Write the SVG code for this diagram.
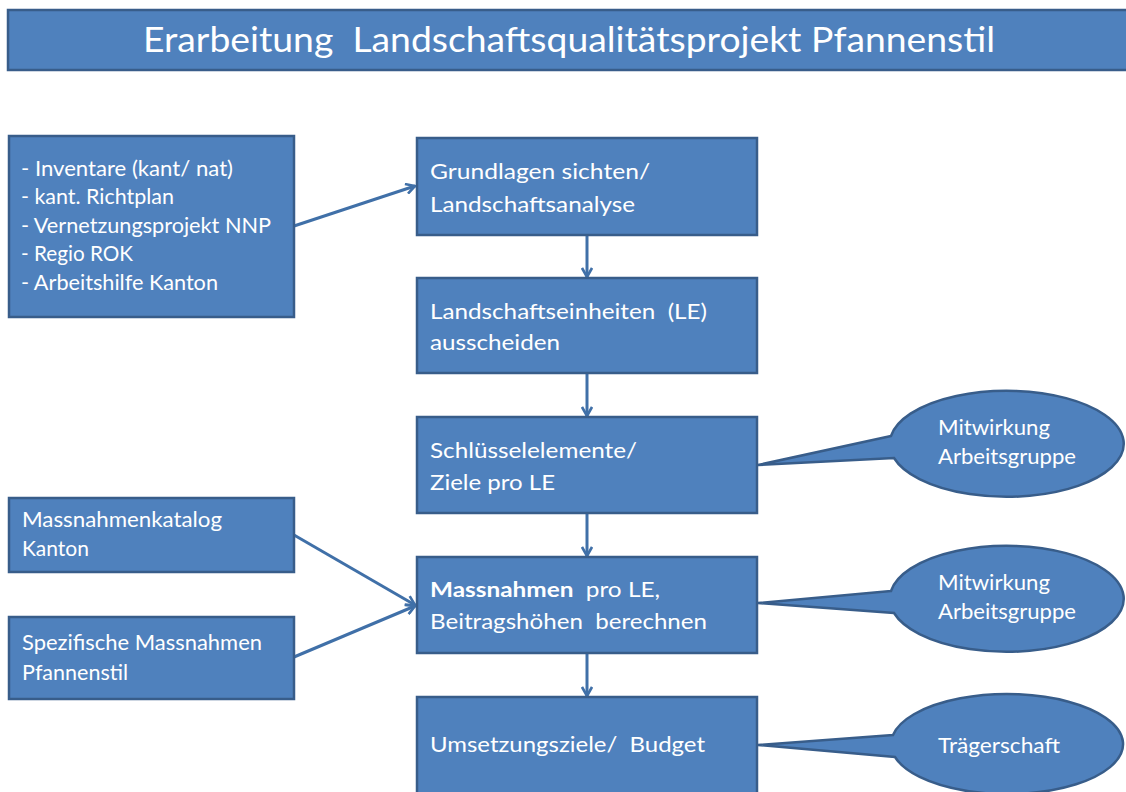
<svg xmlns="http://www.w3.org/2000/svg" width="1126" height="792" viewBox="0 0 1126 792">
<style>
.box{fill:#4F81BD;stroke:#385D8A;stroke-width:2.5}
.t{font-family:Lato,"Open Sans","Liberation Sans",sans-serif;font-size:21.5px;fill:#FFFFFF;white-space:pre}
.c{stroke:#4070A8;stroke-width:3;fill:none}
</style>
<defs>
<marker id="ah" viewBox="0 0 12 12" refX="10" refY="6" markerWidth="12" markerHeight="12" markerUnits="userSpaceOnUse" orient="auto">
<path d="M1,1 L10,6 L1,11" fill="none" stroke="#4070A8" stroke-width="2.6"/>
</marker>
</defs>
<rect width="1126" height="792" fill="#FFFFFF"/>
<g id="title">
<rect class="box" x="8" y="10" width="1130" height="60"/>
<text class="t" x="569" y="52" text-anchor="middle" style="font-size:34px" textLength="852" lengthAdjust="spacingAndGlyphs">Erarbeitung  Landschaftsqualitätsprojekt Pfannenstil</text>
</g>
<g id="connectors">
<line class="c" x1="294" y1="226" x2="415" y2="186" marker-end="url(#ah)"/>
<line class="c" x1="294" y1="535" x2="415" y2="605" marker-end="url(#ah)"/>
<line class="c" x1="294" y1="657" x2="415" y2="606" marker-end="url(#ah)"/>
<line class="c" x1="587" y1="235" x2="587" y2="277" marker-end="url(#ah)"/>
<line class="c" x1="587" y1="373" x2="587" y2="416" marker-end="url(#ah)"/>
<line class="c" x1="587" y1="513" x2="587" y2="556" marker-end="url(#ah)"/>
<line class="c" x1="587" y1="653" x2="587" y2="696" marker-end="url(#ah)"/>
</g>
<g id="inputs1">
<rect class="box" x="9" y="136" width="285" height="181"/>
<text class="t" x="21" y="176" textLength="212" lengthAdjust="spacingAndGlyphs">- Inventare (kant/ nat)</text>
<text class="t" x="21" y="204" textLength="153" lengthAdjust="spacingAndGlyphs">- kant. Richtplan</text>
<text class="t" x="21" y="233" textLength="250" lengthAdjust="spacingAndGlyphs">- Vernetzungsprojekt NNP</text>
<text class="t" x="21" y="261" textLength="112" lengthAdjust="spacingAndGlyphs">- Regio ROK</text>
<text class="t" x="21" y="290" textLength="197" lengthAdjust="spacingAndGlyphs">- Arbeitshilfe Kanton</text>
</g>
<g id="inputs2">
<rect class="box" x="9" y="498" width="285" height="74"/>
<text class="t" x="22" y="527" textLength="200" lengthAdjust="spacingAndGlyphs">Massnahmenkatalog</text>
<text class="t" x="22" y="556" textLength="67" lengthAdjust="spacingAndGlyphs">Kanton</text>
</g>
<g id="inputs3">
<rect class="box" x="9" y="617" width="285" height="82"/>
<text class="t" x="22" y="650" textLength="240" lengthAdjust="spacingAndGlyphs">Spezifische Massnahmen</text>
<text class="t" x="22" y="680" textLength="106" lengthAdjust="spacingAndGlyphs">Pfannenstil</text>
</g>
<g id="step1">
<rect class="box" x="417" y="138" width="340" height="97"/>
<text class="t" x="430" y="179" textLength="220" lengthAdjust="spacingAndGlyphs">Grundlagen sichten/</text>
<text class="t" x="430" y="212" textLength="205" lengthAdjust="spacingAndGlyphs">Landschaftsanalyse</text>
</g>
<g id="step2">
<rect class="box" x="417" y="278" width="340" height="95"/>
<text class="t" x="430" y="319" textLength="277" lengthAdjust="spacingAndGlyphs">Landschaftseinheiten  (LE)</text>
<text class="t" x="430" y="350" textLength="130" lengthAdjust="spacingAndGlyphs">ausscheiden</text>
</g>
<g id="step3">
<rect class="box" x="417" y="417" width="340" height="96"/>
<text class="t" x="430" y="458" textLength="207" lengthAdjust="spacingAndGlyphs">Schlüsselelemente/</text>
<text class="t" x="430" y="490" textLength="125" lengthAdjust="spacingAndGlyphs">Ziele pro LE</text>
</g>
<g id="step4">
<rect class="box" x="417" y="557" width="340" height="96"/>
<text class="t" x="430" y="597" textLength="230" lengthAdjust="spacingAndGlyphs"><tspan font-weight="bold">Massnahmen</tspan>  pro LE,</text>
<text class="t" x="430" y="629" textLength="277" lengthAdjust="spacingAndGlyphs">Beitragshöhen  berechnen</text>
</g>
<g id="step5">
<rect class="box" x="417" y="697" width="340" height="105"/>
<text class="t" x="430" y="752" textLength="275" lengthAdjust="spacingAndGlyphs">Umsetzungsziele/  Budget</text>
</g>
<g id="callout1">
<path class="box" d="M891,436 L758,465 L894,458 A117 53 0 1 0 891,436 Z"/>
<text class="t" x="938" y="435" textLength="112" lengthAdjust="spacingAndGlyphs">Mitwirkung</text>
<text class="t" x="938" y="464" textLength="138" lengthAdjust="spacingAndGlyphs">Arbeitsgruppe</text>
</g>
<g id="callout2">
<path class="box" d="M891,591 L758,603 L894,613 A117 53 0 1 0 891,591 Z"/>
<text class="t" x="938" y="590" textLength="112" lengthAdjust="spacingAndGlyphs">Mitwirkung</text>
<text class="t" x="938" y="619" textLength="138" lengthAdjust="spacingAndGlyphs">Arbeitsgruppe</text>
</g>
<g id="callout3">
<path class="box" d="M893,735 L758,745 L895,757 A116 50 0 1 0 893,735 Z"/>
<text class="t" x="938" y="753" textLength="122" lengthAdjust="spacingAndGlyphs">Trägerschaft</text>
</g>
</svg>
